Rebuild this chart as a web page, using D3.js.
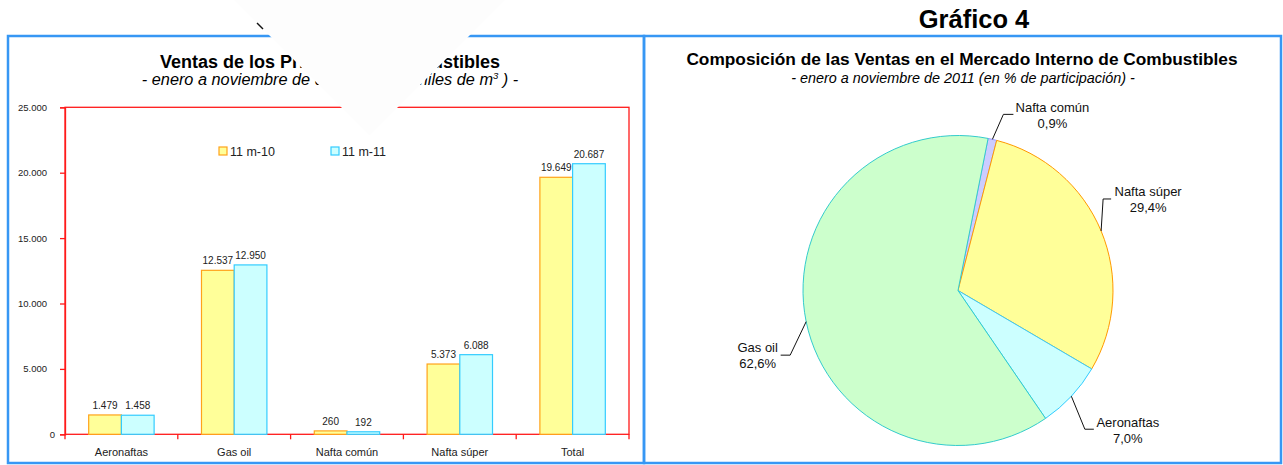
<!DOCTYPE html>
<html>
<head>
<meta charset="utf-8">
<script src="https://cdn.jsdelivr.net/npm/d3@7"></script>
<style>
  body { margin: 0; background: #fff; }
  text { font-family: "Liberation Sans", Arial, sans-serif; }
</style>
</head>
<body>
<svg id="chart"></svg>
<script>
// bar chart data
const categories = ['Aeronaftas', 'Gas oil', 'Nafta común', 'Nafta súper', 'Total'];
const series = ['11 m-10', '11 m-11'];
const ventas10 = [1479, 12537, 260, 5373, 19649];
const ventas11 = [1458, 12950, 192, 6088, 20687];
const yTicks = [0, 5000, 10000, 15000, 20000, 25000];

// pie data (% de participación, enero a noviembre 2011)
const pieLabels = ['Nafta común', 'Nafta súper', 'Aeronaftas', 'Gas oil'];
const pieValues = [0.9, 29.4, 7.0, 62.6];

const width = 1283;
const height = 465;

const es = d3.formatLocale({ decimal: ',', thousands: '.', grouping: [3], currency: ['$', ''] });
const fmtInt = es.format(',d');
const fmtPct = es.format(',.1f');

const svg = d3.select('#chart').attr('width', width).attr('height', height);

const seriesFill = ['#ffff99', '#ccffff'];
const seriesStroke = ['#ffa31a', '#33ccff'];
const pieFill = ['#ccccff', '#ffff99', '#ccffff', '#ccffcc'];
const pieStroke = ['#9999ff', '#ff9900', '#33ccff', '#33cccc'];

// panels
const border = '#3797f4';
svg.append('rect').attr('x', 8).attr('y', 36).attr('width', 636).attr('height', 427)
  .attr('fill', 'none').attr('stroke', border).attr('stroke-width', 2.5);
svg.append('rect').attr('x', 644).attr('y', 36).attr('width', 637).attr('height', 427)
  .attr('fill', 'none').attr('stroke', border).attr('stroke-width', 2.5);

svg.append('text').attr('x', 974).attr('y', 28).attr('text-anchor', 'middle')
  .attr('font-size', 25.5).attr('font-weight', 'bold').text('Gráfico 4');

// ---------- bar chart ----------
const plot = { left: 65, right: 629, top: 107.3, bottom: 434.3 };

svg.append('text').attr('x', 330).attr('y', 67.5).attr('text-anchor', 'middle')
  .attr('font-size', 18).attr('font-weight', 'bold')
  .text('Ventas de los Principales Combustibles');

const sub = svg.append('text').attr('x', 330).attr('y', 84.5).attr('text-anchor', 'middle')
  .attr('font-size', 16.3).attr('font-style', 'italic');
sub.append('tspan').text('- enero a noviembre de cada año (en miles de m');
sub.append('tspan').attr('font-size', 9.5).attr('dy', -6).text('3');
sub.append('tspan').attr('dy', 6).text(' ) -');

const x0 = d3.scaleBand().domain(categories)
  .range([plot.left, plot.right]).paddingInner(0.42).paddingOuter(0.21);
const x1 = d3.scaleBand().domain(series).range([0, x0.bandwidth()]);
const y = d3.scaleLinear().domain([0, 25000]).range([plot.bottom, plot.top]);

svg.append('rect')
  .attr('x', plot.left).attr('y', plot.top)
  .attr('width', plot.right - plot.left).attr('height', plot.bottom - plot.top)
  .attr('fill', 'none').attr('stroke', '#ff1a1a').attr('stroke-width', 1.3);

const yAxis = svg.append('g')
  .attr('transform', `translate(${plot.left},0)`)
  .call(d3.axisLeft(y).tickValues(yTicks).tickSize(5).tickPadding(13).tickFormat(fmtInt));
yAxis.select('.domain').attr('stroke', '#ff1a1a').attr('stroke-width', 1.3);
yAxis.selectAll('.tick line').attr('stroke', '#ff1a1a').attr('stroke-width', 1.3);
yAxis.selectAll('.tick text')
  .attr('font-family', '"Liberation Sans", Arial, sans-serif')
  .attr('font-size', 9.5).attr('fill', '#222')
  .attr('dx', (d) => (d === 0 ? 8 : 0));

// category labels
const xAxis = svg.append('g')
  .attr('transform', `translate(0,${plot.bottom})`)
  .call(d3.axisBottom(x0).tickSize(0).tickPadding(14));
xAxis.select('.domain').remove();
xAxis.selectAll('.tick text')
  .attr('font-family', '"Liberation Sans", Arial, sans-serif')
  .attr('font-size', 11).attr('fill', '#222');

// category boundary ticks
const edgeOffset = x0.step() * x0.paddingOuter();
const boundaries = categories.map((c) => x0(c) - edgeOffset).concat([plot.right]);
svg.append('g').selectAll('line').data(boundaries).join('line')
  .attr('x1', (d) => d).attr('x2', (d) => d)
  .attr('y1', plot.bottom).attr('y2', plot.bottom + 5)
  .attr('stroke', '#ff1a1a').attr('stroke-width', 1.3);

const barData = categories.map((c, i) => ({
  category: c,
  values: [
    { key: series[0], s: 0, value: ventas10[i] },
    { key: series[1], s: 1, value: ventas11[i] },
  ],
}));

const groups = svg.append('g').selectAll('g').data(barData).join('g')
  .attr('transform', (d) => `translate(${x0(d.category)},0)`);

groups.selectAll('rect').data((d) => d.values).join('rect')
  .attr('x', (d) => x1(d.key))
  .attr('y', (d) => y(d.value))
  .attr('width', x1.bandwidth())
  .attr('height', (d) => y(0) - y(d.value))
  .attr('fill', (d) => seriesFill[d.s])
  .attr('stroke', (d) => seriesStroke[d.s])
  .attr('stroke-width', 1.2);

groups.selectAll('text').data((d) => d.values).join('text')
  .attr('x', (d) => x1(d.key) + x1.bandwidth() / 2)
  .attr('y', (d) => y(d.value) - 6)
  .attr('text-anchor', 'middle')
  .attr('font-size', 10).attr('fill', '#222')
  .text((d) => fmtInt(d.value));

// legend
const legend = svg.append('g').attr('transform', 'translate(219,147)');
const legendItems = legend.selectAll('g').data(series).join('g')
  .attr('transform', (d, i) => `translate(${i * 112},0)`);
legendItems.append('rect').attr('width', 8).attr('height', 8)
  .attr('fill', (d, i) => seriesFill[i]).attr('stroke', (d, i) => seriesStroke[i]).attr('stroke-width', 1.2);
legendItems.append('text').attr('x', 11).attr('y', 9)
  .attr('font-size', 12.5).attr('fill', '#222').text((d) => d);

// ---------- pie chart ----------
svg.append('text').attr('x', 962).attr('y', 65).attr('text-anchor', 'middle')
  .attr('font-size', 17.3).attr('font-weight', 'bold')
  .text('Composición de las Ventas en el Mercado Interno de Combustibles');
svg.append('text').attr('x', 963).attr('y', 83).attr('text-anchor', 'middle')
  .attr('font-size', 14.4).attr('font-style', 'italic')
  .text('- enero a noviembre de 2011 (en % de participación) -');

const cx = 958;
const cy = 290.5;
const radius = 155;
const startAngle = (11.2 * Math.PI) / 180;

const pie = d3.pie().sort(null).startAngle(startAngle).endAngle(startAngle + 2 * Math.PI);
const arcs = pie(pieValues);
const arc = d3.arc().innerRadius(0).outerRadius(radius);

const pieG = svg.append('g').attr('transform', `translate(${cx},${cy})`);
pieG.selectAll('path').data(arcs).join('path')
  .attr('d', arc)
  .attr('fill', (d, i) => pieFill[i])
  .attr('stroke', (d, i) => pieStroke[i])
  .attr('stroke-width', 1);

// leader layout: elbow offset from edge, horizontal run, text centre offset from run end
const labelLayout = [
  { elbow: [11, -25], run: 10, text: [39, -2] },
  { elbow: [2, -32], run: 8, text: [37, -2.5] },
  { elbow: [13.5, 33], run: 9, text: [34, -2] },
  { elbow: [-16, 33.5], run: -9.5, text: [-23, -3] },
];

arcs.forEach((a, i) => {
  const mid = (a.startAngle + a.endAngle) / 2;
  const sx = Math.sin(mid) * radius;
  const sy = -Math.cos(mid) * radius;
  const L = labelLayout[i];
  const ex = sx + L.elbow[0];
  const ey = sy + L.elbow[1];
  const rx = ex + L.run;
  pieG.append('path')
    .attr('d', d3.line()([[sx, sy], [ex, ey], [rx, ey]]))
    .attr('fill', 'none').attr('stroke', '#111').attr('stroke-width', 1);
  const t = pieG.append('text').attr('text-anchor', 'middle')
    .attr('font-size', 13).attr('fill', '#111');
  t.append('tspan').attr('x', rx + L.text[0]).attr('y', ey + L.text[1]).text(pieLabels[i]);
  t.append('tspan').attr('x', rx + L.text[0]).attr('y', ey + L.text[1] + 15.5).text(fmtPct(pieValues[i]) + '%');
});

// light overlay shape sitting on top of the left title
svg.append('path')
  .attr('d', d3.line()([[234, 0], [505, 0], [369.5, 135.5]]) + 'Z')
  .attr('fill', '#fdfdfd');
svg.append('line').attr('x1', 257).attr('y1', 23).attr('x2', 263).attr('y2', 29)
  .attr('stroke', '#111').attr('stroke-width', 1.4);
</script>
</body>
</html>
